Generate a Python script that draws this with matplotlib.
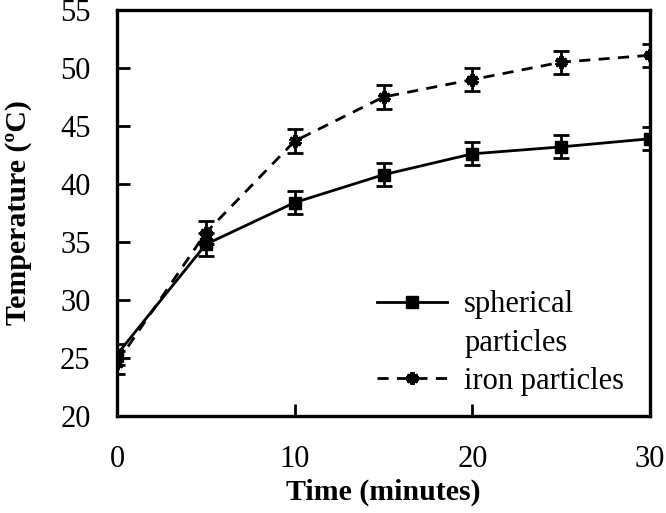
import matplotlib
matplotlib.use("Agg")
import matplotlib.pyplot as plt
from matplotlib.lines import Line2D

time_min = [0, 5, 10, 15, 20, 25, 30]
spherical = [25.3, 34.8, 38.4, 40.8, 42.6, 43.2, 43.9]
iron = [24.6, 35.8, 43.7, 47.5, 49.0, 50.5, 51.1]
spherical_err = [0.9, 1.0, 1.0, 1.0, 1.0, 1.0, 1.0]
iron_err = [1.0, 1.0, 1.0, 1.0, 1.0, 1.0, 1.0]
x_ticks = [0, 10, 20, 30]
y_ticks = [20, 25, 30, 35, 40, 45, 50, 55]

plt.rcParams['font.family'] = ['Liberation Serif', 'DejaVu Serif']
fig = plt.figure(figsize=(6.66, 5.13), dpi=100)
ax = fig.add_axes([117/666, 1-416/513, (650-117)/666, (416-10)/513])

ax.errorbar(time_min, spherical, yerr=spherical_err, fmt='none', ecolor='black',
            capsize=6, elinewidth=2, capthick=2)
ax.errorbar(time_min, iron, yerr=iron_err, fmt='none', ecolor='black',
            capsize=6, elinewidth=2, capthick=2)
l1, = ax.plot(time_min, spherical, color='black', lw=2, marker='s', markersize=8)
l2, = ax.plot(time_min, iron, color='black', lw=2, ls=(0, (4, 3)),
              marker=(6, 2, 0), markersize=9, markeredgewidth=3)

ax.set_xlim(0, 30)
ax.set_ylim(20, 55)
ax.set_xticks(x_ticks)
ax.set_yticks(y_ticks)
ax.tick_params(direction='in', length=9, width=2, labelsize=22)
ax.tick_params(axis='x', pad=21)
ax.tick_params(axis='y', pad=19)
for s in ax.spines.values():
    s.set_linewidth(2.4)
ax.set_xlabel('Time (minutes)', fontsize=21.5, fontweight='bold', labelpad=3)
ax.set_ylabel('Temperature (ºC)', fontsize=21.5, fontweight='bold', labelpad=20)

blank = Line2D([], [], linestyle='none')
leg = ax.legend([l1, blank, l2], ['spherical', 'particles', 'iron particles'],
                loc='lower left', frameon=False, fontsize=22, handlelength=2.3,
                labelspacing=0.3, borderaxespad=0, borderpad=0,
                handletextpad=0.55, bbox_to_anchor=(0.488, 0.05))
fig.savefig('out.png', dpi=100)
